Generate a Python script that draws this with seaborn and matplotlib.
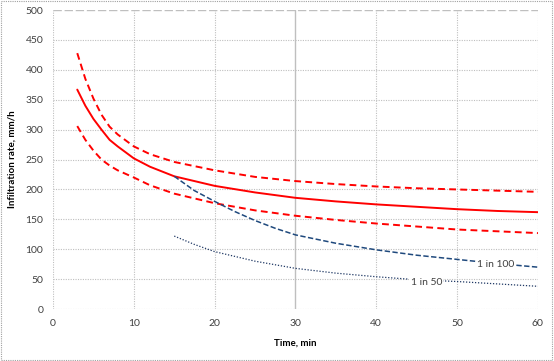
#!/usr/bin/env python3
"""
plot.py - infiltration rate curves vs time
"""

import matplotlib
matplotlib.use('Agg')
import matplotlib.pyplot as plt
import seaborn as sns
from matplotlib.patches import Rectangle

# Infiltration curve (central estimate with upper/lower bounds)
t_curve = [3, 4, 5, 6, 7, 8, 10, 12, 15, 20, 25, 30, 35, 40, 45, 50, 55, 60]
rate_mid = [367, 340, 318, 300, 283, 272, 252, 238, 222, 206, 195, 186, 180, 175, 171, 167, 164, 162]
rate_upper = [428, 385, 352, 325, 305, 292, 272, 259, 246, 232, 221, 214, 209, 205, 202, 200, 198, 196]
rate_lower = [306, 283, 265, 250, 240, 232, 220, 207, 193, 177, 165, 156, 149, 143, 138, 133, 130, 127]

# Design storm intensities
t_storm = [15, 17.5, 20, 22.5, 25, 27.5, 30, 35, 40, 45, 50, 55, 60]
storm_100 = [222, 198, 180, 163, 148, 135, 124, 110, 99, 90, 83, 76, 70]
storm_50 = [122, 108, 96, 88, 80, 74, 68, 60, 54, 49, 46, 42, 38]

X_TICKS = [0, 10, 20, 30, 40, 50, 60]
Y_TICKS = [0, 50, 100, 150, 200, 250, 300, 350, 400, 450, 500]

RED = '#FF0000'
BLUE = '#1F497D'
NAVY = '#1F3864'
GRID = '#BFBFBF'


def setup_style():
    sns.set_style("white")
    plt.rcParams.update({
        'font.family': ['Lato', 'DejaVu Sans'],
        'font.size': 7,
        'text.color': '#404040',
        'xtick.color': '#404040',
        'ytick.color': '#404040',
    })


def main():
    setup_style()
    fig, ax = plt.subplots(figsize=(5.54, 3.61), dpi=100)
    fig.subplots_adjust(left=0.0957, right=0.971, bottom=0.144, top=0.972)

    # grid, Excel style
    for x in X_TICKS:
        if x == 30:
            ax.axvline(x, color=GRID, lw=1.0, ls='-', zorder=0)
        else:
            ax.axvline(x, color=GRID, lw=0.8, ls=(0, (1, 1.2)), zorder=0)
    for y in Y_TICKS:
        if y == 500:
            ax.axhline(y, color=GRID, lw=1.0, ls=(0, (6, 2)), zorder=0)
        else:
            ax.axhline(y, color=GRID, lw=0.8, ls=(0, (1, 1.2)), zorder=0)

    sns.lineplot(x=t_curve, y=rate_upper, ax=ax, color=RED, lw=1.4)
    ax.lines[-1].set_dashes((3.5, 2.2))
    sns.lineplot(x=t_curve, y=rate_mid, ax=ax, color=RED, lw=1.4)
    sns.lineplot(x=t_curve, y=rate_lower, ax=ax, color=RED, lw=1.4)
    ax.lines[-1].set_dashes((3.5, 2.2))
    sns.lineplot(x=t_storm, y=storm_100, ax=ax, color=BLUE, lw=1.1)
    ax.lines[-1].set_dashes((3.5, 1.6))
    sns.lineplot(x=t_storm, y=storm_50, ax=ax, color=NAVY, lw=0.9)
    ax.lines[-1].set_dashes((1, 1.4))

    # series labels
    box = dict(facecolor='white', edgecolor='none', pad=1.0)
    ax.text(54.8, 74, '1 in 100', ha='center', va='center', fontsize=7.5, bbox=box)
    ax.text(46.2, 45, '1 in 50', ha='center', va='center', fontsize=7.5, bbox=box)

    ax.set_xlim(0, 60)
    ax.set_ylim(0, 500)
    ax.set_xticks(X_TICKS)
    ax.set_yticks(Y_TICKS)
    ax.tick_params(axis='both', length=3, width=0.6, color=GRID, pad=4, labelsize=7.5)
    for s in ax.spines.values():
        s.set_visible(False)

    ax.set_xlabel('Time, min', fontsize=7, fontweight='bold', color='black', labelpad=8)
    ax.set_ylabel('Infiltration rate, mm/h', fontsize=7, fontweight='bold', color='black', labelpad=6)

    # dotted chart border
    fig.patches.append(Rectangle((0.002, 0.003), 0.995, 0.994, transform=fig.transFigure,
                                 fill=False, edgecolor='#A0A0A0', lw=0.8, ls=(0, (1, 1))))

    plt.savefig('out.png', dpi=100, facecolor='white')
    plt.close()


if __name__ == "__main__":
    main()
